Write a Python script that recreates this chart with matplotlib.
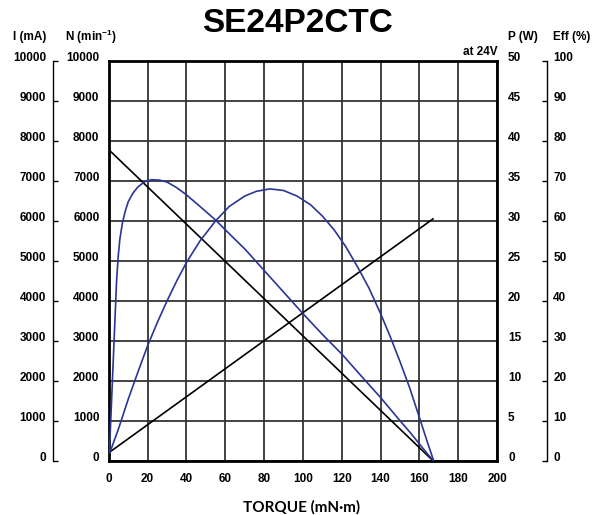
import numpy as np
import matplotlib.pyplot as plt

plt.rcParams['font.family'] = ['Liberation Sans', 'DejaVu Sans']
plt.rcParams['font.weight'] = 'bold'
plt.rcParams['mathtext.fontset'] = 'custom'
plt.rcParams['mathtext.bf'] = 'Liberation Sans:bold'
plt.rcParams['mathtext.rm'] = 'Liberation Sans:bold'

# Данные
speed_torque = [0, 167]          # мН·м
speed_rpm = [7780, 0]            # мин^-1
current_torque = [0, 167]
current_ma = [200, 6050]         # мА

power_torque = [0.5, 5, 10, 15, 20, 25, 30, 35, 40, 47, 55, 62, 70, 76, 83, 90, 97,
                104, 110, 116, 122, 128, 134, 140, 145, 150, 155, 160, 164, 167.2]
power_w = [1.0, 4.0, 7.7, 11.1, 14.4, 17.3, 20.0, 22.5, 24.8, 27.5, 30.0, 31.8, 33.1,
           33.7, 34.0, 33.8, 33.1, 32.0, 30.6, 28.9, 26.8, 24.3, 21.6, 18.4, 15.5,
           12.4, 9.1, 5.4, 2.4, 0.1]

eff_torque = [0.3, 1.5, 3, 4, 4.8, 5.7, 7, 8.5, 10, 12.5, 15, 18.5, 22, 26, 30, 35, 40,
              47, 55, 62, 70, 80, 90, 100, 110, 120, 130, 140, 150, 155, 160, 164, 167.2]
eff_pct = [2, 16, 33.5, 45, 51, 55.5, 59.5, 62.5, 64.8, 67, 68.5, 69.8, 70.3, 70.2,
           69.7, 68.3, 66.5, 63.6, 60.2, 56.8, 53, 47.6, 42.2, 36.8, 31.6, 26.7, 21.2,
           15.8, 10, 7.2, 4.2, 1.8, 0]

x_ticks = list(range(0, 201, 20))
n_ticks = list(range(0, 10001, 1000))
p_ticks = list(range(0, 51, 5))
eff_ticks = list(range(0, 101, 10))

blue = '#2a3596'
fs = 8.5

fig = plt.figure(figsize=(5.96, 5.15), dpi=100)
ax = fig.add_axes([0.1826, 0.1054, 0.6514, 0.7762])

# Сетка и рамка
ax.set_xlim(0, 200)
ax.set_ylim(0, 10000)
ax.set_xticks(x_ticks)
ax.set_yticks(n_ticks)
ax.grid(True, color='#333333', lw=1.3)
ax.set_axisbelow(True)
for s in ax.spines.values():
    s.set_linewidth(2)
ax.tick_params(axis='x', length=0, pad=8.5, labelsize=fs)
ax.tick_params(axis='y', length=0, pad=6.8, labelsize=fs)
for lab in ax.get_yticklabels():
    lab.set_verticalalignment('baseline')

# Скорость и ток
ax.plot(speed_torque, speed_rpm, color='black', lw=1.2, zorder=3)
ax.plot(current_torque, current_ma, color='black', lw=1.2, zorder=3)

# Ось тока слева
ax_i = ax.twinx()
ax_i.set_ylim(0, 10000)
ax_i.set_yticks(n_ticks)
ax_i.yaxis.set_ticks_position('left')
for k in ['top', 'bottom', 'right']:
    ax_i.spines[k].set_visible(False)
ax_i.spines['left'].set_position(('outward', 40))
ax_i.spines['left'].set_linewidth(1.0)
ax_i.tick_params(axis='y', direction='in', length=3.5, width=1.0, pad=5.3, labelsize=fs)
for lab in ax_i.get_yticklabels():
    lab.set_verticalalignment('baseline')

# Мощность справа
ax_p = ax.twinx()
ax_p.set_ylim(0, 50)
ax_p.set_yticks(p_ticks)
for k in ['top', 'bottom', 'left', 'right']:
    ax_p.spines[k].set_visible(False)
ax_p.tick_params(axis='y', length=0, pad=7.9, labelsize=fs)
for lab in ax_p.get_yticklabels():
    lab.set_verticalalignment('baseline')
ax_p.plot(power_torque, power_w, color=blue, lw=1.2, solid_joinstyle='round')

# КПД справа
ax_e = ax.twinx()
ax_e.set_ylim(0, 100)
ax_e.set_yticks(eff_ticks)
for k in ['top', 'bottom', 'left']:
    ax_e.spines[k].set_visible(False)
ax_e.spines['right'].set_position(('outward', 36))
ax_e.spines['right'].set_linewidth(1.0)
ax_e.tick_params(axis='y', direction='in', length=3.5, width=1.0, pad=4.5, labelsize=fs)
for lab in ax_e.get_yticklabels():
    lab.set_verticalalignment('baseline')
ax_e.plot(eff_torque, eff_pct, color=blue, lw=1.2, solid_joinstyle='round')

# Подписи
fig.text(297.5 / 596, 1 - 23 / 515, 'SE24P2CTC', ha='center', va='center',
         fontsize=24, fontweight='bold')
fig.text(13 / 596, 1 - 37 / 515, 'I (mA)', ha='left', va='center', fontsize=fs)
fig.text(65 / 596, 1 - 37 / 515, r'N (min$^{\mathbf{-1}}$)', ha='left', va='center', fontsize=fs)
fig.text(508 / 596, 1 - 37 / 515, 'P (W)', ha='left', va='center', fontsize=fs)
fig.text(553 / 596, 1 - 37 / 515, 'Eff (%)', ha='left', va='center', fontsize=fs)
fig.text(498 / 596, 1 - 52 / 515, 'at 24V', ha='right', va='center', fontsize=fs)
fig.text(302 / 596, 1 - 507 / 515, 'TORQUE (mN·m)', ha='center', va='center',
         fontsize=11, fontweight='bold', family=['Lato', 'DejaVu Sans'])

fig.savefig('out.png', dpi=100)
